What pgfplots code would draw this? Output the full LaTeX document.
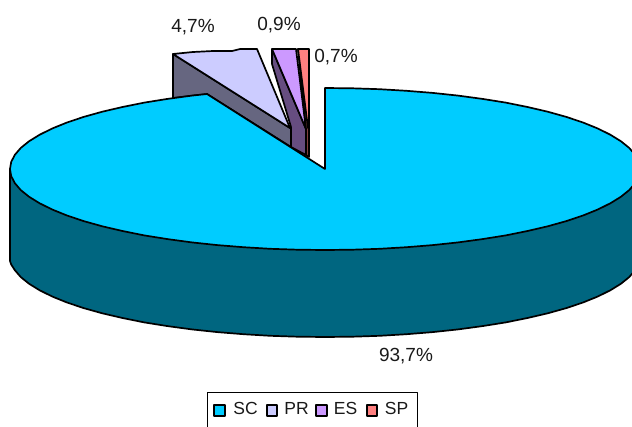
\documentclass[border=0pt]{standalone}
\usepackage{fontspec}
\setmainfont{Liberation Sans}
\usepackage{pgfplots}
\pgfplotsset{compat=1.18}
\definecolor{sc}{HTML}{00CCFF}
\definecolor{scd}{HTML}{006680}
\definecolor{pr}{HTML}{CCCCFF}
\definecolor{prd}{HTML}{666680}
\definecolor{es}{HTML}{CC99FF}
\definecolor{esd}{HTML}{664D80}
\definecolor{sp}{HTML}{FF8080}
\definecolor{spd}{HTML}{804040}
\tikzset{lab/.style={font=\fontsize{19}{19}\selectfont, text=black!90, inner sep=0pt, anchor=center},
leg/.style={lab, font=\fontsize{17.5}{17.5}\selectfont}}
\begin{document}
\begin{tikzpicture}
\useasboundingbox (0,0) rectangle (632pt,426pt);
\begin{axis}[
  at={(0,0)}, anchor=south west,
  scale only axis, width=632pt, height=426pt,
  xmin=0, xmax=632, ymin=0, ymax=426, y dir=reverse,
  hide axis, clip=true,
  every axis plot/.append style={line join=round, line width=1.7pt, mark=none, black}
]
% PR
\addplot[fill=prd] coordinates {(173,54) (290,128) (291,128) (291,147) (207,94) (173,98)} -- cycle;
\addplot[fill=pr] coordinates {(173,54) (193,52) (213,51) (232,51) (240,49) (257,49) (290,128)} -- cycle;
% ES
\addplot[fill=esd] coordinates {(272,49) (306,129) (306,155) (291,147) (291,127) (272,64)} -- cycle;
\addplot[fill=es] coordinates {(272,49) (296,49) (306,129)} -- cycle;
% SP
\addplot[fill=spd] coordinates {(298,49) (306,129) (306,155) (309,157) (309,120)} -- cycle;
\addplot[fill=sp] coordinates {(298,49) (309,49) (309,120) (308,128)} -- cycle;
% SC side
\addplot[fill=scd] coordinates {(10,169) (10,261) (11.2,264.5) (14.8,270.1) (20.7,277) (29,283.7) (39.5,290.2) (52.2,296.5) (67,302.5) (83.7,308.1) (102.3,313.3) (122.5,318) (144.3,322.4) (167.5,326.1) (191.9,329.4) (217.3,332.1) (243.5,334.2) (270.3,335.8) (297.5,336.7) (325,337) (352.5,336.7) (379.7,335.8) (406.5,334.2) (432.7,332.1) (458.1,329.4) (482.5,326.1) (505.7,322.4) (527.5,318) (547.7,313.3) (566.3,308.1) (583,302.5) (597.8,296.5) (610.5,290.2) (621,283.7) (629.3,277) (635.2,270.1) (638.8,263.1) (640,256) (640,169)} -- cycle;
% SC top
\addplot[fill=sc] coordinates {(325,169) (325,88) (352.5,88.3) (379.7,89.2) (406.5,90.8) (432.7,92.9) (458.1,95.6) (482.5,98.9) (505.7,102.6) (527.5,107) (547.7,111.7) (566.3,116.9) (583,122.5) (597.8,128.5) (610.5,134.8) (621,141.3) (629.3,148) (635.2,154.9) (638.8,161.9) (640,169) (638.8,176.1) (635.2,183.1) (629.3,190) (621,196.7) (610.5,203.2) (597.8,209.5) (583,215.5) (566.3,221.1) (547.7,226.3) (527.5,231) (505.7,235.4) (482.5,239.1) (458.1,242.4) (432.7,245.1) (406.5,247.2) (379.7,248.8) (352.5,249.7) (325,250) (297.5,249.7) (270.3,248.8) (243.5,247.2) (217.3,245.1) (191.9,242.4) (167.5,239.1) (144.3,235.4) (122.5,231) (102.3,226.3) (83.7,221.1) (67,215.5) (52.2,209.5) (39.5,203.2) (29,196.7) (20.7,190) (14.8,183.1) (11.2,176.1) (10,169) (11.2,161.9) (14.8,154.9) (20.7,148) (29,141.3) (39.5,134.8) (52.2,128.5) (67,122.5) (83.7,116.9) (102.3,111.7) (122.5,107) (144.3,102.6) (167.5,98.9) (191.9,95.6) (207,94)} -- cycle;
% legend
\addplot[line width=1pt] coordinates {(207,432) (207,392) (417,392) (417,432)};
\addplot[fill=sc] coordinates {(214,405) (225,405) (225,416) (214,416)} -- cycle;
\addplot[fill=pr] coordinates {(267,405) (277,405) (277,416) (267,416)} -- cycle;
\addplot[fill=es] coordinates {(316,405) (327,405) (327,416) (316,416)} -- cycle;
\addplot[fill=sp] coordinates {(367,405) (377,405) (377,416) (367,416)} -- cycle;
\node[leg] at (axis cs:245.5,408) {SC};
\node[leg] at (axis cs:296.5,408) {PR};
\node[leg] at (axis cs:345.5,408) {ES};
\node[leg] at (axis cs:396.5,408) {SP};
\node[lab] at (axis cs:193,27) {4,7\%};
\node[lab] at (axis cs:279,25) {0,9\%};
\node[lab] at (axis cs:336,57) {0,7\%};
\node[lab] at (axis cs:406,356) {93,7\%};
\end{axis}
\end{tikzpicture}
\end{document}
